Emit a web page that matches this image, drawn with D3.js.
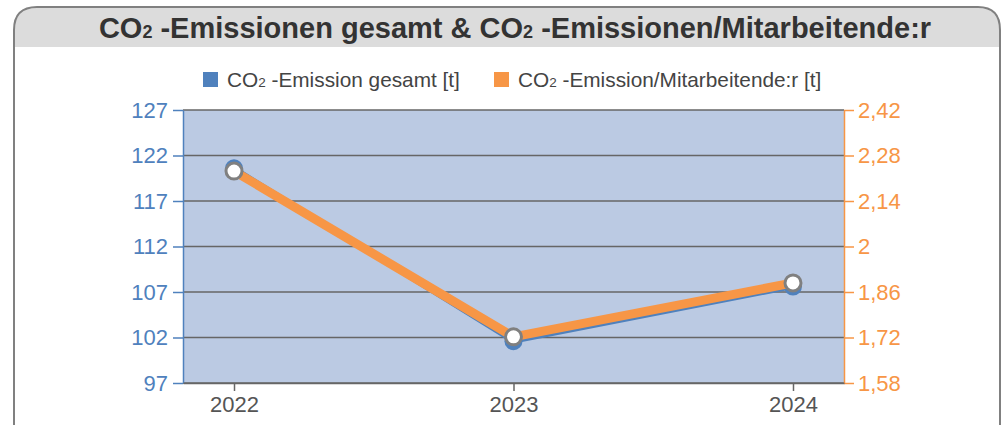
<!DOCTYPE html>
<html>
<head>
<meta charset="utf-8">
<script src="https://cdn.jsdelivr.net/npm/d3@7"></script>
<style>
  body { margin: 0; background: #fff; }
  text { font-family: "Liberation Sans", Arial, sans-serif; }
</style>
</head>
<body>
<svg width="1002" height="425"></svg>
<script>
// chart data
var years = ["2022", "2023", "2024"];
var totalEmission = [120.6, 101.6, 107.6];
var perEmployee = [2.232, 1.722, 1.888];
var leftTicks = [97, 102, 107, 112, 117, 122, 127];
var rightTicks = [1.58, 1.72, 1.86, 2.0, 2.14, 2.28, 2.42];

var blue = "#4f81bd",
  orange = "#f79646",
  grey = "#666",
  font = "Liberation Sans, Arial, sans-serif";

var svg = d3.select("svg"),
  width = +svg.attr("width"),
  height = +svg.attr("height");

var m = { left: 183, right: 844, top: 110, bottom: 383 };

// frame + header
svg.append("path")
  .attr("d", "M14,47 L14,30 Q14,7 37,7 L978,7 Q1000,7 1000,30 L1000,47 Z")
  .attr("fill", "#dcdcdc");
svg.append("path")
  .attr("d", "M14,425 L14,30 Q14,7 37,7 L978,7 Q1000,7 1000,30 L1000,425")
  .attr("fill", "none")
  .attr("stroke", "#808080")
  .attr("stroke-width", 2);

var title = svg.append("text")
  .attr("x", 515)
  .attr("y", 38)
  .attr("text-anchor", "middle")
  .attr("font-size", 29)
  .attr("font-weight", "bold")
  .attr("fill", "#333");
title.append("tspan").text("CO");
title.append("tspan").attr("font-size", 18).text("2");
title.append("tspan").text(" -Emissionen gesamt & CO");
title.append("tspan").attr("font-size", 18).text("2");
title.append("tspan").text(" -Emissionen/Mitarbeitende:r");

// legend
var legend = [
  { x: 203, color: blue, rest: " -Emission gesamt [t]" },
  { x: 494, color: orange, rest: " -Emission/Mitarbeitende:r [t]" }
];
var lg = svg.selectAll(".lg").data(legend).enter().append("g")
  .attr("transform", (d) => "translate(" + d.x + ",72)");
lg.append("rect").attr("width", 15).attr("height", 15).attr("fill", (d) => d.color);
var lt = lg.append("text").attr("x", 24).attr("y", 15)
  .attr("font-size", 20.8).attr("fill", "#444");
lt.append("tspan").text("CO");
lt.append("tspan").attr("font-size", 13.5).text("2");
lt.append("tspan").text((d) => d.rest);

// scales
var x = d3.scalePoint().domain(years).range([m.left, m.right]).padding(0.1825);
var yL = d3.scaleLinear().domain([97, 127]).range([m.bottom, m.top]);
var yR = d3.scaleLinear().domain([1.58, 2.42]).range([m.bottom, m.top]);

svg.append("rect")
  .attr("x", m.left).attr("y", m.top)
  .attr("width", m.right - m.left).attr("height", m.bottom - m.top)
  .attr("fill", "#bbcae3");

// gridlines
svg.append("g").selectAll("line").data(leftTicks).enter().append("line")
  .attr("x1", m.left).attr("x2", m.right)
  .attr("y1", (d) => yL(d)).attr("y2", (d) => yL(d))
  .attr("stroke", grey).attr("stroke-width", 1.5);

// left axis
var axL = svg.append("g").attr("transform", "translate(" + m.left + ",0)")
  .call(d3.axisLeft(yL).tickValues(leftTicks).tickSize(10).tickPadding(5).tickSizeOuter(0));
axL.select(".domain").attr("stroke", blue).attr("stroke-width", 1.5);
axL.selectAll(".tick line").attr("stroke", blue).attr("stroke-width", 1.5);
axL.selectAll(".tick text").attr("fill", blue).attr("font-size", 22)
  .attr("font-family", font);

// right axis
var fmtR = (d) => d3.format(".2~f")(d).replace(".", ",");
var axR = svg.append("g").attr("transform", "translate(" + m.right + ",0)")
  .call(d3.axisRight(yR).tickValues(rightTicks).tickFormat(fmtR).tickSize(10).tickPadding(4).tickSizeOuter(0));
axR.select(".domain").attr("stroke", orange).attr("stroke-width", 1.5);
axR.selectAll(".tick line").attr("stroke", orange).attr("stroke-width", 1.5);
axR.selectAll(".tick text").attr("fill", orange).attr("font-size", 22)
  .attr("font-family", font);

// bottom axis
var axB = svg.append("g").attr("transform", "translate(0," + m.bottom + ")")
  .call(d3.axisBottom(x).tickSize(8).tickPadding(5).tickSizeOuter(0));
axB.select(".domain").attr("stroke", grey).attr("stroke-width", 1.5);
axB.selectAll(".tick line").attr("stroke", grey).attr("stroke-width", 1.5);
axB.selectAll(".tick text").attr("fill", "#555").attr("font-size", 22)
  .attr("font-family", font);

// series
var lineL = d3.line().x((d, i) => x(years[i])).y((d) => yL(d));
var lineR = d3.line().x((d, i) => x(years[i])).y((d) => yR(d));

svg.append("path").datum(totalEmission).attr("d", lineL)
  .attr("fill", "none").attr("stroke", blue).attr("stroke-width", 5);
svg.selectAll(".mL").data(totalEmission).enter().append("circle")
  .attr("cx", (d, i) => x(years[i])).attr("cy", (d) => yL(d))
  .attr("r", 9).attr("fill", blue);

svg.append("path").datum(perEmployee).attr("d", lineR)
  .attr("fill", "none").attr("stroke", orange).attr("stroke-width", 9);
svg.selectAll(".mR").data(perEmployee).enter().append("circle")
  .attr("cx", (d, i) => x(years[i])).attr("cy", (d) => yR(d))
  .attr("r", 8).attr("fill", "#fff").attr("stroke", "#808080").attr("stroke-width", 3);
</script>
</body>
</html>
